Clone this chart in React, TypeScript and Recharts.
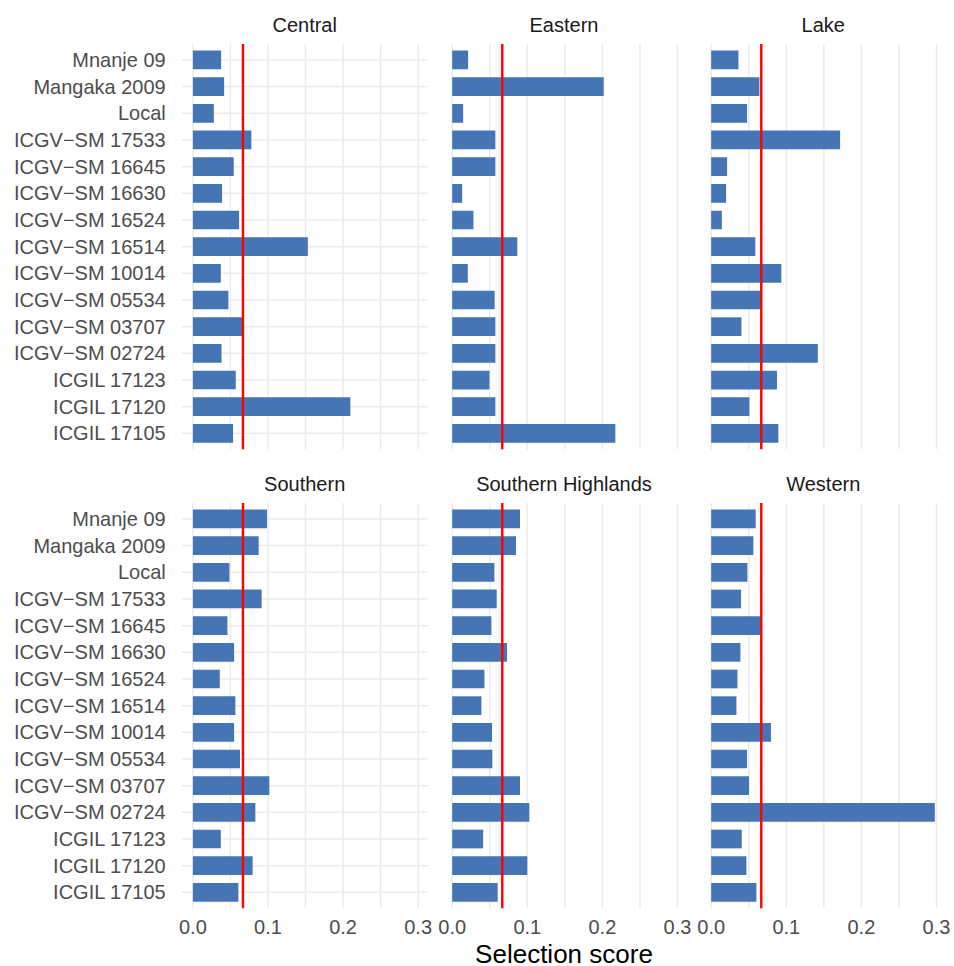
import React from 'react';
import { BarChart, Bar, XAxis, YAxis, CartesianGrid, ReferenceLine } from 'recharts';

const genotypes = [
  'Mnanje 09',
  'Mangaka 2009',
  'Local',
  'ICGV−SM 17533',
  'ICGV−SM 16645',
  'ICGV−SM 16630',
  'ICGV−SM 16524',
  'ICGV−SM 16514',
  'ICGV−SM 10014',
  'ICGV−SM 05534',
  'ICGV−SM 03707',
  'ICGV−SM 02724',
  'ICGIL 17123',
  'ICGIL 17120',
  'ICGIL 17105',
];

const central = [0.0376, 0.0416, 0.0279, 0.0779, 0.0544, 0.0389, 0.0615, 0.1531, 0.0372, 0.0473, 0.0659, 0.0381, 0.0571, 0.2097, 0.0535];
const eastern = [0.0212, 0.2018, 0.0146, 0.0575, 0.0575, 0.0133, 0.0283, 0.0867, 0.0208, 0.0566, 0.0575, 0.0575, 0.0496, 0.0575, 0.2173];
const lake = [0.0363, 0.0642, 0.0478, 0.1717, 0.0212, 0.0199, 0.0142, 0.0588, 0.0934, 0.0664, 0.0403, 0.142, 0.0876, 0.0509, 0.0894];
const southern = [0.0987, 0.0876, 0.0487, 0.0916, 0.046, 0.0549, 0.0358, 0.0566, 0.0549, 0.0628, 0.1018, 0.0832, 0.0372, 0.0796, 0.0606];
const southernHighlands = [0.0903, 0.085, 0.0562, 0.0593, 0.0522, 0.073, 0.0429, 0.0389, 0.0531, 0.0535, 0.0903, 0.1027, 0.0412, 0.1, 0.0606];
const western = [0.0593, 0.0562, 0.0482, 0.0398, 0.0659, 0.0389, 0.035, 0.0336, 0.0796, 0.0478, 0.0504, 0.2978, 0.0407, 0.0469, 0.0602];

const regions = ['Central', 'Eastern', 'Lake', 'Southern', 'Southern Highlands', 'Western'];
const regionValues = [central, eastern, lake, southern, southernHighlands, western];

const meanScore = 0.0667;
const xTicks = [0, 0.05, 0.1, 0.15, 0.2, 0.25, 0.3];
const xDomain = [-0.0149, 0.3127];
const xTitle = 'Selection score';

const FONT = '"Liberation Sans", Arial, Helvetica, sans-serif';
const COL_LEFT = [181.7, 441, 700.3];
const ROW_TOP = [44.3, 503.3];
const PLOT_W = 246;
const PLOT_H = 405.3;
const BAR_COLOR = '#4575B4';
const GRID_COLOR = '#EBEBEB';

function Panel({ title, values, index }: { title: string; values: number[]; index: number }) {
  const col = index % 3;
  const row = Math.floor(index / 3);
  const isLeft = col === 0;
  const isBottom = row === 1;
  const data = genotypes.map((g, i) => ({ genotype: g, score: values[i] }));
  const marginLeft = isLeft ? 0 : 20;
  const marginRight = col === 2 ? 7 : 20;
  const yW = isLeft ? COL_LEFT[0] : 0;
  const xH = isBottom ? 30 : 0;
  const width = yW + marginLeft + PLOT_W + marginRight;
  const height = PLOT_H + xH;
  const left = COL_LEFT[col] - yW - marginLeft;
  const top = ROW_TOP[row];
  return (
    <>
      <div
        style={{
          position: 'absolute',
          left: COL_LEFT[col],
          top: top - 29.5,
          width: PLOT_W,
          textAlign: 'center',
          fontFamily: FONT,
          fontSize: 20,
          lineHeight: '20px',
          color: '#1A1A1A',
          whiteSpace: 'nowrap',
        }}
      >
        {title}
      </div>
      <div style={{ position: 'absolute', left, top, width, height }}>
        <BarChart
          width={width}
          height={height}
          data={data}
          layout="vertical"
          margin={{ top: 0, right: marginRight, bottom: 0, left: marginLeft }}
        >
          <CartesianGrid stroke={GRID_COLOR} strokeWidth={1.5} horizontal vertical syncWithTicks />
          <XAxis
            type="number"
            dataKey="score"
            domain={xDomain}
            ticks={xTicks}
            interval={0}
            allowDataOverflow
            height={xH}
            axisLine={false}
            tickLine={false}
            tickMargin={6}
            tick={{ fill: '#4D4D4D', fontSize: 20, fontFamily: FONT }}
            tickFormatter={(v: number) =>
              isBottom && Math.round(v * 100) % 10 === 0 ? v.toFixed(1) : ''
            }
          />
          <YAxis
            type="category"
            dataKey="genotype"
            width={yW}
            interval={0}
            axisLine={false}
            tickLine={false}
            tickMargin={10}
            padding={{ top: 2.6, bottom: 2.6 }}
            tick={isLeft ? { fill: '#4D4D4D', fontSize: 20, fontFamily: FONT } : false}
          />
          <Bar dataKey="score" fill={BAR_COLOR} barSize={18.7} isAnimationActive={false} />
          <ReferenceLine x={meanScore} stroke="#FF0000" strokeWidth={2.4} />
        </BarChart>
      </div>
    </>
  );
}

export default function App() {
  return (
    <div
      style={{
        position: 'absolute',
        left: 0,
        top: 0,
        width: 954,
        height: 966,
        background: '#FFFFFF',
        overflow: 'hidden',
      }}
    >
      {regions.map((r, i) => (
        <Panel key={r} title={r} values={regionValues[i]} index={i} />
      ))}
      <div
        style={{
          position: 'absolute',
          left: COL_LEFT[1] - 30,
          top: 944,
          width: PLOT_W + 60,
          textAlign: 'center',
          fontFamily: FONT,
          fontSize: 26,
          lineHeight: '20px',
          color: '#000000',
          whiteSpace: 'nowrap',
        }}
      >
        {xTitle}
      </div>
    </div>
  );
}
